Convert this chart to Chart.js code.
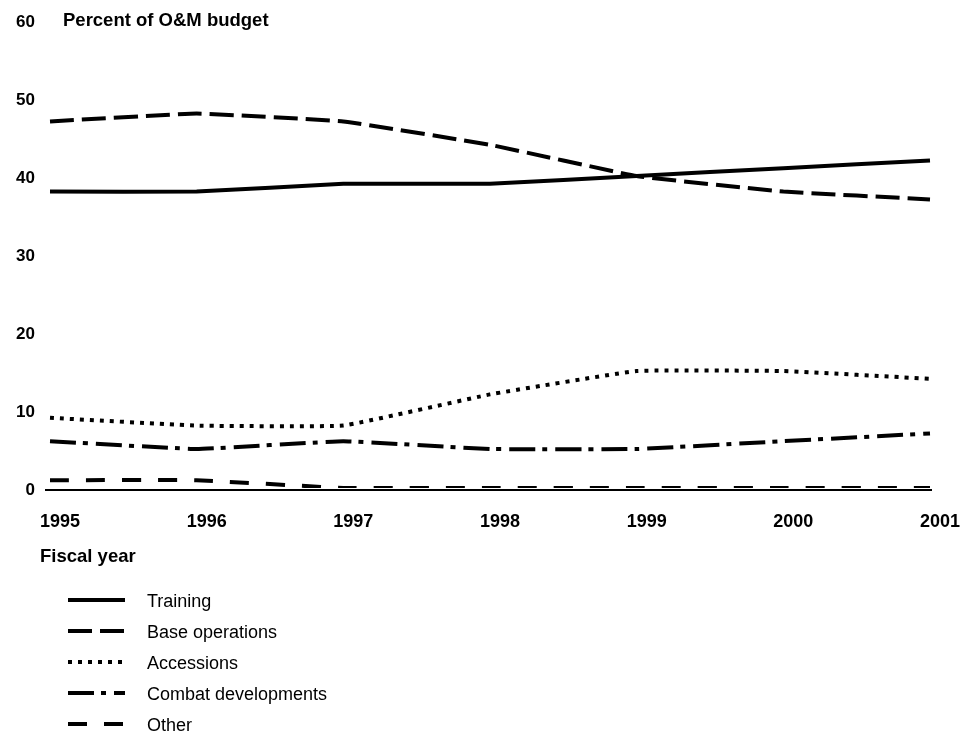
<!DOCTYPE html>
<html>
<head>
<meta charset="utf-8">
<script src="https://cdn.jsdelivr.net/npm/chart.js@4"></script>
<style>
  body { margin: 0; background: #fff; }
  canvas { display: block; }
</style>
</head>
<body>
<canvas id="graph1" width="980" height="734"></canvas>
<script>
var years = ['1995', '1996', '1997', '1998', '1999', '2000', '2001'];
var yTicks = [0, 10, 20, 30, 40, 50, 60];

var training = [38, 38, 39, 39, 40, 41, 42];
var baseOperations = [47, 48, 47, 44, 40, 38, 37];
var accessions = [9, 8, 8, 12, 15, 15, 14];
var combatDevelopments = [6, 5, 6, 5, 5, 6, 7];
var other = [1, 1, 0, 0, 0, 0, 0];

var seriesNames = ['Training', 'Base operations', 'Accessions', 'Combat developments', 'Other'];
var seriesData = [training, baseOperations, accessions, combatDevelopments, other];
var seriesDash = [[], [24, 8], [4, 6], [26, 7, 5, 8], [19, 17]];

var font = '"Liberation Sans", Arial, Helvetica, sans-serif';
var ctx = document.getElementById('graph1');

// axis titles, baseline and the legend under the chart
var extras = {
    id: 'extras',
    beforeDatasetsDraw: function(chart) {
        var c = chart.ctx;
        var y0 = chart.scales.y.getPixelForValue(0) + 2;
        c.save();
        c.strokeStyle = '#000';
        c.lineWidth = 2;
        c.beginPath();
        c.moveTo(45, y0);
        c.lineTo(932, y0);
        c.stroke();
        c.restore();
    },
    afterDraw: function(chart) {
        var c = chart.ctx;
        c.save();
        c.fillStyle = '#000';
        c.textBaseline = 'middle';
        c.textAlign = 'left';
        c.font = 'bold 18.5px ' + font;
        c.fillText('Percent of O&M budget', 63, 21);
        c.fillText('Fiscal year', 40, 557);

        c.font = '18px ' + font;
        var rows = [600, 631, 662, 693, 724];
        for (var i = 0; i < seriesNames.length; i++) {
            c.strokeStyle = '#000';
            c.lineWidth = 4;
            c.lineCap = 'butt';
            c.setLineDash(seriesDash[i]);
            c.beginPath();
            c.moveTo(68, rows[i]);
            c.lineTo(125, rows[i]);
            c.stroke();
            c.fillText(seriesNames[i], 147, rows[i] + 2);
        }
        c.restore();
    }
};

var datasets = [];
for (var i = 0; i < seriesNames.length; i++) {
    datasets.push({
        label: seriesNames[i],
        data: seriesData[i],
        borderColor: '#000',
        borderWidth: 4,
        borderDash: seriesDash[i],
        borderCapStyle: 'butt',
        pointRadius: 0,
        tension: 0.08,
        fill: false
    });
}

var myChart = new Chart(ctx, {
    type: 'line',
    data: { labels: years, datasets: datasets },
    options: {
        responsive: false,
        animation: false,
        layout: { padding: { top: 20, right: 50, left: 0, bottom: 0 } },
        plugins: { legend: { display: false }, tooltip: { enabled: false } },
        scales: {
            x: {
                grid: { display: false, drawTicks: false },
                border: { display: false },
                ticks: {
                    color: '#000',
                    font: { family: font, size: 18, weight: 'bold' },
                    padding: 23,
                    labelOffset: 10,
                    maxRotation: 0,
                    autoSkip: false
                },
                afterFit: function(scale) { scale.height = 246; }
            },
            y: {
                min: 0,
                max: 60,
                grid: { display: false, drawTicks: false },
                border: { display: false },
                afterBuildTicks: function(scale) {
                    scale.ticks = yTicks.map(function(v) { return { value: v }; });
                },
                ticks: {
                    color: '#000',
                    font: { family: font, size: 17, weight: 'bold' },
                    padding: 15,
                    labelOffset: 2
                },
                afterFit: function(scale) {
                    scale.width = 50;
                    scale.paddingTop = 0;
                    scale.paddingBottom = 0;
                }
            }
        }
    },
    plugins: [extras]
});
</script>
</body>
</html>
